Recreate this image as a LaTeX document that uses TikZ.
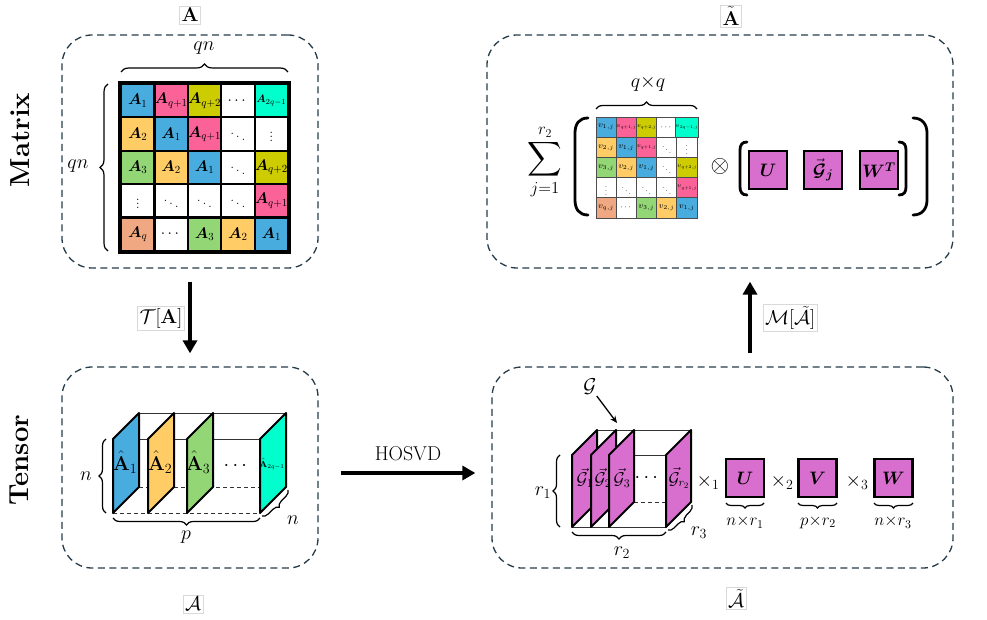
\RequirePackage{fix-cm}
\documentclass[tikz,border=0pt]{standalone}
\usepackage{amsmath,amssymb,bm}
\usetikzlibrary{arrows.meta,decorations.pathreplacing,calc}

\definecolor{cblue}{RGB}{72,172,222}
\definecolor{cpink}{RGB}{250,98,152}
\definecolor{colive}{RGB}{204,204,0}
\definecolor{caqua}{RGB}{0,255,204}
\definecolor{corange}{RGB}{255,204,102}
\definecolor{cgreen}{RGB}{146,214,118}
\definecolor{csalmon}{RGB}{240,168,130}
\definecolor{cmag}{RGB}{216,110,206}
\definecolor{panelcol}{RGB}{38,60,74}

\tikzset{
  panel/.style={draw=panelcol, line width=1.3pt, dash pattern=on 7pt off 4.5pt,
    rounded corners=30pt, inner sep=0pt},
  tag/.style={draw=black!15, line width=0.6pt, inner sep=2pt, fill=white,
    font=\fontsize{20}{24}\selectfont},
  side/.style={rotate=90, font=\bfseries\fontsize{27.5}{30}\selectfont},
  lab/.style={inner sep=1pt, font=\fontsize{20}{24}\selectfont},
  smalllab/.style={inner sep=1pt, font=\fontsize{17}{20}\selectfont},
  bigcell/.style={draw=black, line width=2.2pt, minimum size=33.4pt, inner sep=0pt,
    font=\fontsize{15.5}{18}\selectfont},
  smallcell/.style={draw=black!70, line width=0.8pt, minimum size=20.2pt, inner sep=0pt,
    font=\fontsize{8.5}{10}\selectfont},
  mbox/.style={draw=black, line width=2.5pt, fill=cmag, minimum size=38pt, inner sep=0pt,
    font=\fontsize{18}{21}\selectfont},
  bigarrow/.style={line width=3.6pt, -{Triangle[length=13pt,width=14pt]}},
  curly/.style={decorate, decoration={brace, amplitude=#1}, line width=1.2pt},
  curly/.default=8pt,
  edge3d/.style={draw=black!80, line width=1pt},
  hidden3d/.style={draw=black!80, line width=1pt, dash pattern=on 4pt off 3pt},
  slice/.style={draw=black, line width=2pt, line join=round},
  paren/.style={line width=2.8pt, line cap=round},
}

\begin{document}
\begin{tikzpicture}[x=1pt,y=-1pt]
\useasboundingbox (0,0) rectangle (987,620);

% ---------- panels ----------
\node[panel, minimum width=256pt, minimum height=233pt] (matbox) at (190,151.5) {};
\node[panel, minimum width=466pt, minimum height=233pt] (rmatbox) at (720,151.5) {};
\node[panel, minimum width=256pt, minimum height=201pt] (tenbox) at (190,467.5) {};
\node[panel, minimum width=461pt, minimum height=201pt] (rtenbox) at (722.5,467.5) {};

% ---------- side and panel titles ----------
\node[side] (mside) at (20,140) {Matrix};
\node[side] (tside) at (19,460) {Tensor};

\node[tag] (tA) at (190,15) {$\mathbf{A}$};
\node[tag] (tAt) at (731,16) {$\tilde{\mathbf{A}}$};
\node[tag] (tcA) at (193,604) {$\mathcal{A}$};
\node[tag] (tcAt) at (736,598) {$\tilde{\mathcal{A}}$};

% ---------- block Toeplitz matrix ----------
\foreach \c/\r/\col/\lbl in {
  1/1/cblue/{\bm{A}_1}, 2/1/cpink/{\bm{A}_{q+1}}, 3/1/colive/{\bm{A}_{q+2}}, 4/1/white/{\cdots}, 5/1/caqua/{\scriptstyle\bm{A}_{2q-1}},
  1/2/corange/{\bm{A}_2}, 2/2/cblue/{\bm{A}_1}, 3/2/cpink/{\bm{A}_{q+1}}, 4/2/white/{\ddots}, 5/2/white/{\vdots},
  1/3/cgreen/{\bm{A}_3}, 2/3/corange/{\bm{A}_2}, 3/3/cblue/{\bm{A}_1}, 4/3/white/{\ddots}, 5/3/colive/{\bm{A}_{q+2}},
  1/4/white/{\vdots}, 2/4/white/{\ddots}, 3/4/white/{\ddots}, 4/4/white/{\ddots}, 5/4/cpink/{\bm{A}_{q+1}},
  1/5/csalmon/{\bm{A}_q}, 2/5/white/{\cdots}, 3/5/cgreen/{\bm{A}_3}, 4/5/corange/{\bm{A}_2}, 5/5/cblue/{\bm{A}_1}}
  \node[bigcell, fill=\col] (m-\r-\c) at ({121+33.4*(\c-0.5)},{84+33.4*(\r-0.5)}) {$\lbl$};
\draw[line width=3pt] (m-1-1.north west) rectangle (m-5-5.south east);

\draw[curly] (121,72) -- (288,72);
\node[lab] (qntop) at (204,48) {$qn$};
\draw[curly] (108,251) -- (108,84);
\node[lab] (qnleft) at (78,166) {$qn$};

% ---------- small Toeplitz factor ----------
\foreach \c/\r/\col/\lbl in {
  1/1/cblue/{v_{1,j}}, 2/1/cpink/{\scriptstyle v_{q+1,j}}, 3/1/colive/{\scriptstyle v_{q+2,j}}, 4/1/white/{\cdots}, 5/1/caqua/{\scriptstyle v_{2q-1,j}},
  1/2/corange/{v_{2,j}}, 2/2/cblue/{v_{1,j}}, 3/2/cpink/{\scriptstyle v_{q+1,j}}, 4/2/white/{\ddots}, 5/2/white/{\vdots},
  1/3/cgreen/{v_{3,j}}, 2/3/corange/{v_{2,j}}, 3/3/cblue/{v_{1,j}}, 4/3/white/{\ddots}, 5/3/colive/{\scriptstyle v_{q+2,j}},
  1/4/white/{\vdots}, 2/4/white/{\ddots}, 3/4/white/{\ddots}, 4/4/white/{\ddots}, 5/4/cpink/{\scriptstyle v_{q+1,j}},
  1/5/csalmon/{v_{q,j}}, 2/5/white/{\cdots}, 3/5/cgreen/{v_{3,j}}, 4/5/corange/{v_{2,j}}, 5/5/cblue/{v_{1,j}}}
  \node[smallcell, fill=\col] (v-\r-\c) at ({596+20.2*(\c-0.5)},{117+20.2*(\r-0.5)}) {$\lbl$};

\draw[curly=7pt] (596,109) -- (697,109);
\node[lab] (qxq) at (648,84) {$q{\times}q$};

\node[inner sep=0pt, font=\fontsize{24}{28}\selectfont] (sum) at (545,162) {$\displaystyle\sum_{j=1}^{r_2}$};

\draw[paren] (588,118) .. controls (579,118) and (575,124) .. (575,133) -- (575,200) .. controls (575,209) and (579,215) .. (588,215);
\draw[paren] (913,118) .. controls (922,118) and (927,124) .. (927,133) -- (927,200) .. controls (927,209) and (922,215) .. (913,215);

\node[inner sep=0pt, font=\fontsize{24}{28}\selectfont] (otimes) at (720,167) {$\otimes$};

\draw[paren] (747,142) .. controls (742,142) and (740,145) .. (740,150) -- (740,187) .. controls (740,192) and (742,195) .. (747,195);
\draw[paren] (899,142) .. controls (904,142) and (906,145) .. (906,150) -- (906,187) .. controls (906,192) and (904,195) .. (899,195);

\node[mbox] (U1) at (768,170) {$\bm{U}$};
\node[mbox] (G1) at (823,170) {$\vec{\bm{\mathcal{G}}}_{\bm{j}}$};
\node[mbox] (W1) at (879,170) {$\bm{W}^{\bm{T}}$};

% ---------- tensor of slices ----------
\draw[edge3d] (113,439) -- (260,439);
\draw[edge3d] (139,413) -- (286,413);
\draw[hidden3d] (113,513) -- (260,513);
\draw[hidden3d] (139,487) -- (260,487);
\draw[slice, fill=cblue] (113,513) -- (113,439) -- (139,413) -- (139,487) -- cycle;
\node[lab] (ah1) at (125,462) {$\hat{\mathbf{A}}_1$};
\draw[slice, fill=corange] (148,513) -- (148,439) -- (174,413) -- (174,487) -- cycle;
\node[lab] (ah2) at (160,462) {$\hat{\mathbf{A}}_2$};
\draw[slice, fill=cgreen] (187,513) -- (187,439) -- (213,413) -- (213,487) -- cycle;
\node[lab] (ah3) at (198,462) {$\hat{\mathbf{A}}_3$};
\node[lab] (adots) at (237,466) {$\cdots$};
\draw[slice, fill=caqua] (260,513) -- (260,439) -- (286,413) -- (286,487) -- cycle;
\node[inner sep=0pt, font=\fontsize{9}{10}\selectfont] (ahq) at (272,464) {$\hat{\mathbf{A}}_{2q-1}$};

\draw[curly=7pt] (106,513) -- (106,439);
\node[lab] (nleft) at (86,476) {$n$};
\draw[curly=7pt] (260,518) -- (113,518);
\node[lab] (plab) at (186,537) {$p$};
\draw[curly=6pt] (288,490) -- (262,516);
\node[lab] (ndepth) at (293,520) {$n$};

% ---------- HOSVD arrow ----------
\coordinate (hy) at (0,473);
\draw[bigarrow, shorten <=22pt, shorten >=16pt] (tenbox.east |- hy) -- (rtenbox.west |- hy);
\node[inner sep=0pt, font=\fontsize{20}{24}\selectfont] (hosvd) at (408,454) {HOSVD};

% ---------- vertical arrows ----------
\draw[bigarrow, shorten <=13pt, shorten >=13pt] (matbox.south) -- (tenbox.north);
\node[tag] (Tlab) at (161,318) {$\mathcal{T}[\mathbf{A}]$};
\coordinate (mx) at (750,0);
\draw[bigarrow, shorten <=13pt, shorten >=13pt] (rtenbox.north -| mx) -- (rmatbox.south -| mx);
\node[tag] (Mlab) at (790,318) {$\mathcal{M}[\tilde{\mathcal{A}}]$};

% ---------- core tensor ----------
\draw[edge3d] (572,455) -- (666,455);
\draw[edge3d] (597,430) -- (691,430);
\draw[edge3d] (572,527) -- (666,527);
\draw[hidden3d] (634,502) -- (666,502);
\draw[slice, fill=cmag] (572,527) -- (572,455) -- (597,430) -- (597,502) -- cycle;
\node[smalllab] (g1) at (585,478) {$\vec{\mathcal{G}}_1$};
\draw[slice, fill=cmag] (591,527) -- (591,455) -- (616,430) -- (616,502) -- cycle;
\node[smalllab] (g2) at (603,478) {$\vec{\mathcal{G}}_2$};
\draw[slice, fill=cmag] (609,527) -- (609,455) -- (634,430) -- (634,502) -- cycle;
\node[smalllab] (g3) at (622,478) {$\vec{\mathcal{G}}_3$};
\node[lab] (gdots) at (648,478) {$\cdots$};
\draw[slice, fill=cmag] (666,527) -- (666,455) -- (691,430) -- (691,502) -- cycle;
\node[smalllab] (gr) at (679,478) {$\vec{\mathcal{G}}_{r_2}$};

\node[lab] (gname) at (590,387) {$\mathcal{G}$};
\coordinate (gtip) at (617,423);
\draw[line width=1.3pt, -{Stealth[length=7pt,width=6pt]}] (gname) -- (gtip);

\draw[curly=7pt] (560,527) -- (560,455);
\node[lab] (r1) at (543,493) {$r_1$};
\draw[curly=7pt] (666,532) -- (572,532);
\node[lab] (r2) at (622,553) {$r_2$};
\draw[curly=6pt] (692,505) -- (668,530);
\node[lab] (r3) at (699,533) {$r_3$};

% ---------- mode products ----------
\node[lab] (x1) at (708,482) {$\times_1$};
\node[mbox] (U2) at (745,478) {$\bm{U}$};
\node[lab] (x2) at (782,482) {$\times_2$};
\node[mbox] (V2) at (817.5,478) {$\bm{V}$};
\node[lab] (x3) at (857,482) {$\times_3$};
\node[mbox] (W2) at (893.5,478) {$\bm{W}$};

\draw[curly=5pt] (764,503) -- (726,503);
\node[smalllab] (du) at (745,522) {$n{\times}r_1$};
\draw[curly=5pt] (837,503) -- (798,503);
\node[smalllab] (dv) at (818,522) {$p{\times}r_2$};
\draw[curly=5pt] (913,503) -- (874,503);
\node[smalllab] (dw) at (893,522) {$n{\times}r_3$};
\end{tikzpicture}
\end{document}
